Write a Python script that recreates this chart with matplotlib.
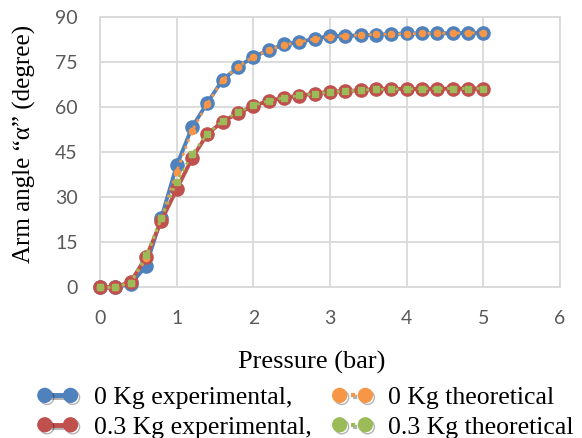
import matplotlib
matplotlib.use("Agg")
import matplotlib.pyplot as plt
import matplotlib.patheffects as pe
from matplotlib.lines import Line2D

# pressure steps (bar)
pressure = [0, 0.2, 0.4, 0.6, 0.8, 1.0, 1.2, 1.4, 1.6, 1.8, 2.0, 2.2, 2.4,
            2.6, 2.8, 3.0, 3.2, 3.4, 3.6, 3.8, 4.0, 4.2, 4.4, 4.6, 4.8, 5.0]

# arm angle (degree)
exp_0kg = [0, 0, 1.1, 7.1, 23.2, 40.6, 53.2, 61.4, 69.0, 73.2, 76.7, 78.8, 80.8,
           81.5, 82.7, 83.5, 83.6, 83.8, 84.0, 84.2, 84.4, 84.4, 84.5, 84.5, 84.6, 84.6]
theo_0kg = [0, 0, 1.5, 9.6, 23.0, 38.5, 52.1, 61.0, 69.0, 73.4, 76.6, 78.8, 80.6,
            81.6, 82.6, 83.3, 83.6, 83.9, 84.1, 84.2, 84.3, 84.4, 84.5, 84.5, 84.6, 84.6]
exp_03kg = [0, 0, 1.9, 10.0, 22.2, 32.6, 42.9, 51.0, 55.1, 57.9, 60.3, 62.0, 63.0,
            63.7, 64.4, 65.0, 65.3, 65.5, 66.0, 66.0, 66.0, 66.0, 66.0, 66.1, 66.1, 66.1]
theo_03kg = [0, 0, 1.6, 10.8, 23.0, 35.1, 44.3, 51.0, 55.4, 58.3, 60.5, 62.0, 63.0,
             63.8, 64.4, 64.9, 65.3, 65.6, 65.8, 65.9, 66.0, 66.0, 66.1, 66.1, 66.1, 66.1]

labels = ['0 Kg experimental,', '0 Kg theoretical',
          '0.3 Kg experimental,', '0.3 Kg theoretical']
colors = ['#4F81BD', '#F79646', '#C0504D', '#9BBB59']

fig = plt.figure(figsize=(5.82, 4.38), dpi=100)
ax = fig.add_axes([0.172, 0.344, 0.79, 0.618])

ax.plot(pressure, exp_0kg, '-o', color=colors[0], linewidth=2.8,
        markersize=9.5, clip_on=False, zorder=3)
ax.plot(pressure, theo_0kg, ':o', color=colors[1], linewidth=2,
        markersize=4.5, clip_on=False, zorder=4)
ax.plot(pressure, exp_03kg, '-o', color=colors[2], linewidth=2.8,
        markersize=9.5, clip_on=False, zorder=3)
ax.plot(pressure, theo_03kg, ':s', color=colors[3], linewidth=2,
        markersize=4, clip_on=False, zorder=4)

ax.set_xlim(0, 6)
ax.set_ylim(0, 90)
ax.set_xticks(range(0, 7))
ax.set_yticks(range(0, 91, 15))
ax.grid(True, color='#d9d9d9', linewidth=1.3)
ax.set_axisbelow(True)
for s in ax.spines.values():
    s.set_color('#d9d9d9')
    s.set_linewidth(1.3)
ax.tick_params(length=0, pad=16, labelsize=14, labelcolor='#595959')
for lab in ax.get_xticklabels() + ax.get_yticklabels():
    lab.set_family('Lato')

ax.set_xlabel('Pressure (bar)', family='Liberation Serif', fontsize=19)
ax.xaxis.set_label_coords(0.461, -0.235)
ax.set_ylabel('Arm angle \u201c\u03b1\u201d (degree)', family='Liberation Serif',
              fontsize=18)
ax.yaxis.set_label_coords(-0.14, 0.53)

# legend handles: big circles with a drop shadow
shadow = [pe.SimpleLineShadow(offset=(1.5, -1.5), alpha=0.3), pe.Normal()]
handles = [
    Line2D([], [], color=colors[0], ls='-', lw=3.5, marker='o', ms=10, path_effects=shadow),
    Line2D([], [], color=colors[2], ls='-', lw=3.5, marker='o', ms=10, path_effects=shadow),
    Line2D([], [], color=colors[1], ls=':', lw=3, marker='o', ms=10, path_effects=shadow),
    Line2D([], [], color=colors[3], ls=':', lw=3, marker='o', ms=10, path_effects=shadow),
]
fig.legend(handles=handles, labels=[labels[0], labels[2], labels[1], labels[3]],
           ncol=2, loc='center', bbox_to_anchor=(0.525, 0.058), frameon=False,
           prop={'family': 'Liberation Serif', 'size': 18.5},
           handlelength=1.6, columnspacing=0.8, labelspacing=0.25,
           handletextpad=0.6, numpoints=2, borderpad=0)

fig.savefig('out.png', dpi=100)
